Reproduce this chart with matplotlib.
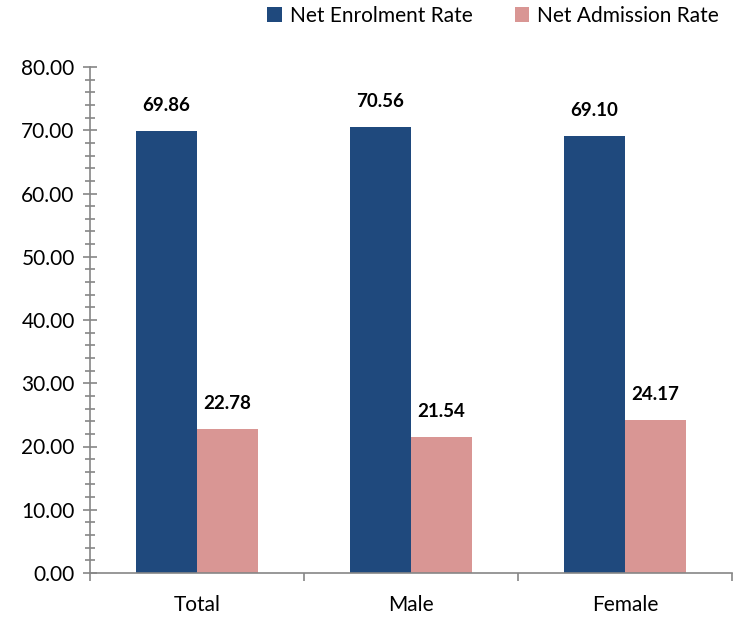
import numpy as np
import matplotlib.pyplot as plt
from matplotlib.ticker import MultipleLocator

categories = ["Total", "Male", "Female"]
enrolment = [69.86, 70.56, 69.10]
admission = [22.78, 21.54, 24.17]
series_names = ["Net Enrolment Rate", "Net Admission Rate"]

plt.rcParams['font.family'] = ['Lato', 'DejaVu Sans']

fig = plt.figure(figsize=(7.39, 6.18), dpi=100)
ax = fig.add_axes([90 / 739, 45 / 618, 642 / 739, 506 / 618])

x = np.arange(len(categories))
w = 0.285
b1 = ax.bar(x - w / 2, enrolment, w, color='#1F497D', label=series_names[0])
b2 = ax.bar(x + w / 2, admission, w, color='#D99694', label=series_names[1])

for bars, vals in ((b1, enrolment), (b2, admission)):
    for r, v in zip(bars, vals):
        ax.annotate(f"{v:.2f}", (r.get_x() + r.get_width() / 2, v),
                    xytext=(0, 12), textcoords='offset points',
                    ha='center', va='bottom', fontsize=13.5, fontweight='bold')

ax.set_xlim(-0.5, 2.5)
ax.set_ylim(0, 80)
ax.yaxis.set_major_locator(MultipleLocator(10))
ax.yaxis.set_minor_locator(MultipleLocator(2))
ax.yaxis.set_major_formatter(lambda v, p: f"{v:.2f}")
ax.set_xticks(x)
ax.set_xticklabels(categories)
ax.set_xticks([-0.5, 0.5, 1.5, 2.5], minor=True)

for s in ['top', 'right']:
    ax.spines[s].set_visible(False)
for s in ['left', 'bottom']:
    ax.spines[s].set_color('#868686')
    ax.spines[s].set_linewidth(1.2)

ax.tick_params(axis='y', which='both', direction='inout', color='#868686',
               labelsize=15, width=1.2, pad=6)
ax.tick_params(axis='y', which='major', length=10)
ax.tick_params(axis='y', which='minor', length=7)
ax.tick_params(axis='x', which='major', length=0, labelsize=15, pad=16)
ax.tick_params(axis='x', which='minor', length=6, color='#868686', width=1.2)

ax.legend(loc='upper right', bbox_to_anchor=(0.993, 1.137), ncol=2, frameon=False,
          fontsize=15, handlelength=0.7, handleheight=0.7, handletextpad=0.4,
          columnspacing=2.0, borderaxespad=0)

fig.savefig('out.png', dpi=100)
